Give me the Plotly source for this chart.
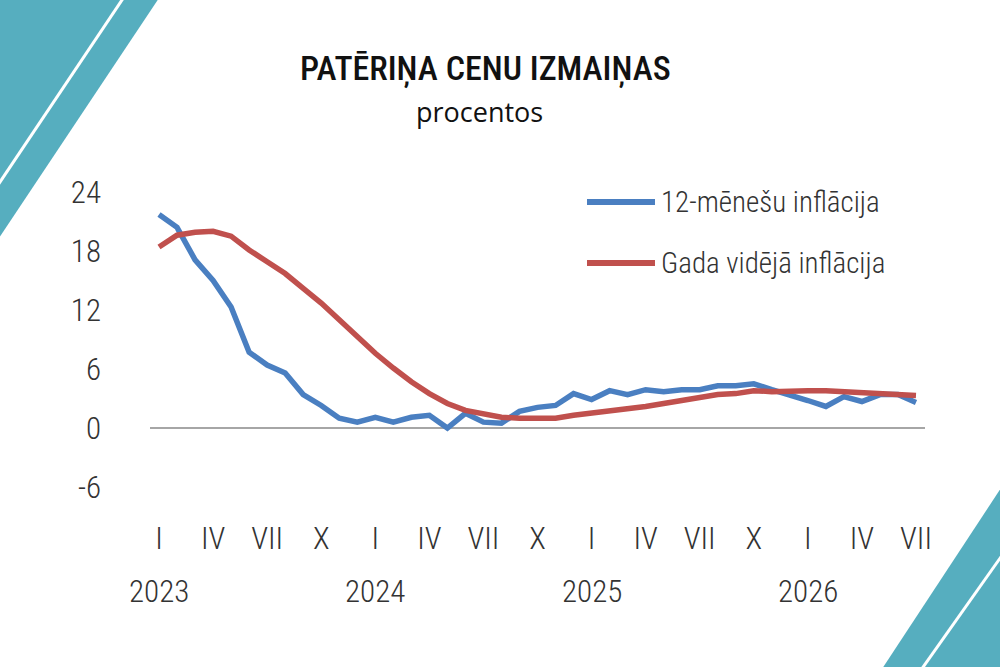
import plotly.graph_objects as go

# monthly data, Jan 2023 .. Jul 2026
months = list(range(43))
inflation_12m = [21.7, 20.4, 17.1, 15.0, 12.3, 7.7, 6.4, 5.6, 3.4, 2.3, 1.0, 0.6,
                 1.1, 0.6, 1.1, 1.3, 0.0, 1.5, 0.6, 0.5, 1.7, 2.1, 2.3, 3.5,
                 2.9, 3.8, 3.4, 3.9, 3.7, 3.9, 3.9, 4.3, 4.3, 4.5, 3.9, 3.4,
                 2.8, 2.2, 3.2, 2.7, 3.4, 3.4, 2.6]
inflation_avg = [18.4, 19.6, 19.9, 20.0, 19.5, 18.1, 16.9, 15.7, 14.2, 12.7, 11.0, 9.3,
                 7.6, 6.1, 4.7, 3.5, 2.5, 1.8, 1.4, 1.1, 1.0, 1.0, 1.0, 1.3,
                 1.5, 1.7, 1.9, 2.2, 2.5, 2.8, 3.0, 3.4, 3.5, 3.8, 3.7, 3.8,
                 3.8, 3.8, 3.7, 3.6, 3.6, 3.5, 3.3]
tick_vals = list(range(0, 43, 3))
tick_text = ["I", "IV", "VII", "X"] * 3 + ["I", "IV", "VII"]
year_pos = [0, 12, 24, 36]
year_labels = ["2023", "2024", "2025", "2026"]
y_ticks = [-6, 0, 6, 12, 18, 24]
y_tick_text = ["-6", "0", "6", "12", "18", "24"]

BLUE = "#4a7fc1"
RED = "#c0504d"
TEAL = "#56aebf"
FONT = "Roboto Condensed, DejaVu Sans Condensed, sans-serif"

W, H = 1000, 667
L, R, T, B = 150, 75, 186, 174


def px(x, y):
    # page pixels -> paper coords
    return (x - L) / (W - L - R), (H - B - y) / (H - T - B)


fig = go.Figure()
fig.add_trace(go.Scatter(x=months, y=inflation_12m, mode="lines",
                         line=dict(color=BLUE, width=5.5), name="12-mēnešu inflācija"))
fig.add_trace(go.Scatter(x=months, y=inflation_avg, mode="lines",
                         line=dict(color=RED, width=5.5), name="Gada vidējā inflācija"))

shapes = []


def poly(points, **kw):
    p = [px(*pt) for pt in points]
    path = "M" + " L".join(f"{a:.4f},{b:.4f}" for a, b in p) + " Z"
    shapes.append(dict(type="path", xref="paper", yref="paper", path=path, layer="below", **kw))


def seg(p0, p1, color, width):
    a, b = px(*p0)
    c, d = px(*p1)
    shapes.append(dict(type="line", xref="paper", yref="paper", x0=a, y0=b, x1=c, y1=d,
                       line=dict(color=color, width=width), layer="below"))


# corner decorations
poly([(-5, -5), (161, -5), (-5, 244)], fillcolor=TEAL, line=dict(width=0))
seg((124, -3), (-2, 185), "white", 3)
poly([(1005, 482), (1005, 672), (880, 672)], fillcolor=TEAL, line=dict(width=0))
seg((1003, 554), (921, 670), "white", 3)

# manual legend
seg((587, 202), (655, 202), BLUE, 6)
seg((587, 263), (655, 263), RED, 6)

annotations = []
for xp, yp, txt in [(659, 202, "12-mēnešu inflācija"), (659, 263, "Gada vidējā inflācija")]:
    a, b = px(xp, yp)
    annotations.append(dict(x=a, y=b, xref="paper", yref="paper", text=txt, showarrow=False,
                            xanchor="left", yanchor="middle",
                            font=dict(family=FONT, size=29, weight=300, color="#333333")))

for pos, lab in zip(year_pos, year_labels):
    annotations.append(dict(x=pos, y=px(0, 591)[1], xref="x", yref="paper", text=lab,
                            showarrow=False, xanchor="center", yanchor="middle",
                            font=dict(family=FONT, size=31, weight=300, color="#333333")))

tx, ty = px(485, 68)
annotations.append(dict(x=tx, y=ty, xref="paper", yref="paper",
                        text="PATĒRIŅA CENU IZMAIŅAS", showarrow=False,
                        xanchor="center", yanchor="middle",
                        font=dict(family=FONT, size=34, weight=500, color="#111111")))
sx, sy = px(479, 112)
annotations.append(dict(x=sx, y=sy, xref="paper", yref="paper", text="procentos",
                        showarrow=False, xanchor="center", yanchor="middle",
                        font=dict(family="Open Sans", size=27, color="#111111")))

fig.update_layout(
    width=W, height=H,
    margin=dict(l=L, r=R, t=T, b=B),
    paper_bgcolor="white", plot_bgcolor="white",
    showlegend=False,
    shapes=shapes, annotations=annotations,
    xaxis=dict(range=[-0.5, 42.5], tickvals=tick_vals, ticktext=tick_text,
               showgrid=False, zeroline=False, showline=False, ticks="",
               ticklabelstandoff=24,
               tickfont=dict(family=FONT, size=31, weight=300, color="#333333")),
    yaxis=dict(range=[-6.6, 24.6], tickvals=y_ticks, ticktext=y_tick_text, showgrid=False,
               zeroline=True, zerolinecolor="#a6a6a6", zerolinewidth=1.5,
               showline=False, ticks="", ticklabelstandoff=48,
               tickfont=dict(family=FONT, size=31, weight=300, color="#333333")),
)

fig.write_html("out.html", config={"displayModeBar": False},
               post_script="document.body.style.margin='0';")
